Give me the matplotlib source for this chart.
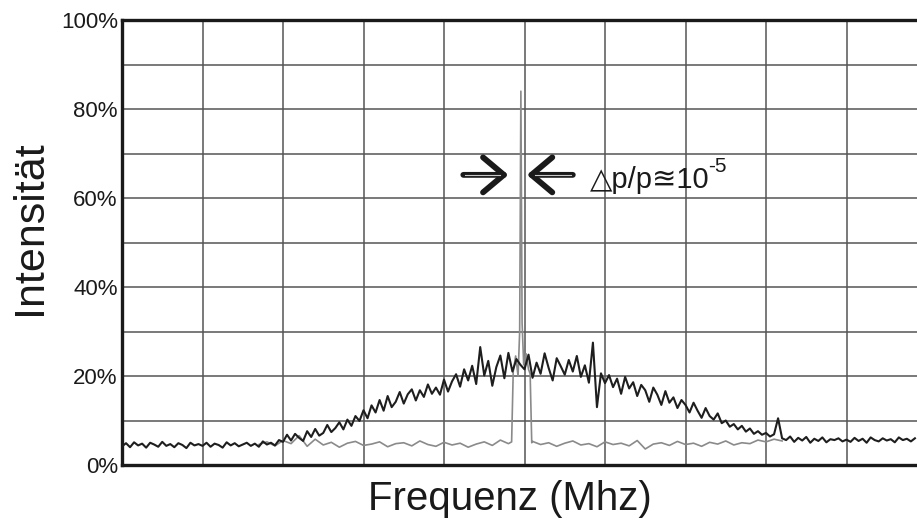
import numpy as np
import matplotlib.pyplot as plt

# broad spectrum (dark trace), one value per 0.05 grid division
broad_vals = [
    4.2, 4.9, 4.0, 5.1, 4.4, 4.8, 3.9, 5.0, 4.6, 4.1, 5.2, 4.3, 4.7, 4.0, 4.9, 4.5, 3.8, 5.0, 4.4, 4.7,
    4.3, 5.0, 4.1, 4.8, 4.5, 3.9, 5.1, 4.4, 4.9, 4.2, 4.6, 5.0, 4.3, 4.8, 4.1, 5.3, 4.6, 5.0, 4.4, 5.6,
    5.2, 6.8, 5.5, 7.0, 6.1, 5.4, 7.6, 6.3, 8.1, 6.6, 7.2, 9.0, 7.4, 8.3, 9.6, 8.0, 10.2, 8.8, 11.0, 9.9,
    12.3, 10.5, 13.4, 11.8, 14.6, 12.2, 15.5, 13.0, 14.2, 16.4, 13.8, 15.9, 17.0, 14.5, 16.8, 15.3, 18.1, 16.0, 17.4, 15.8,
    19.2, 16.5, 18.8, 20.4, 17.6, 21.5, 19.0, 22.3, 18.2, 26.5, 20.1, 23.4, 17.8, 22.0, 24.6, 19.5, 25.2, 21.0, 23.8, 22.5,
    21.5, 24.8, 19.6, 23.0, 20.5, 25.1, 21.8, 19.0, 24.0, 22.2, 20.3, 23.6, 21.0, 24.5, 19.8, 22.4, 18.5, 27.5, 13.0, 20.6,
    18.4, 20.2, 17.5, 19.4, 16.0, 19.8, 17.2, 18.6, 15.5, 18.0, 16.8, 14.2, 17.4, 15.8, 13.5, 16.6, 14.0, 15.2, 12.8, 14.6,
    13.5, 11.8, 14.0, 12.2, 10.6, 12.8, 11.0, 10.2, 11.6, 9.4, 10.0, 8.6, 9.2, 8.0, 8.8, 7.5, 8.2, 7.0, 7.6, 6.8,
    7.2, 6.4, 6.9, 10.5, 6.0, 5.6, 6.4, 5.2, 6.1, 5.5, 6.3, 5.0, 5.9, 5.4, 6.2, 5.1, 5.8, 5.6, 6.0, 5.3,
    5.7, 5.2, 6.1, 5.4, 5.9, 5.0, 6.2, 5.6, 5.3, 6.0, 5.5, 5.8, 5.1, 6.2, 5.6, 5.9, 5.3, 6.0,
]
broad_x = np.arange(len(broad_vals)) * 0.05

# cooled beam (gray trace)
narrow_left = [4.6, 5.2, 4.3, 5.5, 4.8, 6.6, 4.2, 5.8, 4.5, 5.1, 4.0, 4.9, 5.3, 4.4, 4.7, 5.2,
               4.1, 4.8, 5.0, 4.3, 5.4, 4.6, 4.2, 5.1, 4.5, 4.9, 4.0, 4.7, 5.2, 4.4, 5.6, 4.8]
peak_x = [4.84, 4.86, 4.89, 4.92, 4.94, 4.955, 4.97, 4.99, 5.02, 5.05, 5.07, 5.09]
peak_y = [5.2, 21.0, 24.5, 20.0, 30.0, 84.0, 32.0, 22.5, 25.0, 21.5, 20.5, 5.0]
narrow_right = [5.3, 4.6, 5.0, 4.2, 4.9, 5.4, 4.5, 4.8, 4.1, 5.2, 4.6, 4.9, 4.3, 5.5, 3.6, 4.7,
                5.0, 4.4, 5.3, 4.6, 4.9, 4.2, 5.1, 4.7, 5.4, 4.5, 5.0, 4.8, 5.6, 5.2, 5.8, 5.4]
narrow_x = np.concatenate([1.7 + np.arange(len(narrow_left)) * 0.1, peak_x,
                           5.1 + np.arange(len(narrow_right)) * 0.1])
narrow_y = np.concatenate([narrow_left, peak_y, narrow_right])

yticks = [0, 20, 40, 60, 80, 100]

plt.rcParams['font.family'] = ['Liberation Sans', 'DejaVu Sans']

fig = plt.figure(figsize=(9.17, 5.24), dpi=100)
ax = fig.add_axes([122 / 917, 59 / 524, 805 / 917, 445 / 524])

ax.plot(narrow_x, narrow_y, color='#8a8a8a', lw=1.2, zorder=3)
ax.plot(broad_x, broad_vals, color='#1e1e1e', lw=1.5, zorder=4)

ax.set_xlim(0, 10)
ax.set_ylim(0, 100)
ax.set_xticks(np.arange(1, 10))
ax.set_xticklabels([])
ax.set_yticks(yticks)
ax.set_yticklabels(['%d%%' % v for v in yticks], fontsize=16, color='#1a1a1a')
ax.set_yticks(np.arange(10, 100, 20), minor=True)
ax.tick_params(which='both', length=0, pad=3)
ax.grid(which='both', color='#555555', lw=1.1)
ax.set_axisbelow(True)
for s in ['left', 'top', 'bottom']:
    ax.spines[s].set_linewidth(2.4)
    ax.spines[s].set_color('#1a1a1a')
ax.spines['right'].set_visible(False)

# arrows pointing at the peak
for x0, x1 in [(4.24, 4.80), (5.60, 5.03)]:
    ax.annotate('', xy=(x1, 65.2), xytext=(x0, 65.2),
                arrowprops=dict(arrowstyle='->,head_length=0.5,head_width=0.42', lw=4.2,
                                color='#1a1a1a', mutation_scale=30, shrinkA=0, shrinkB=0),
                zorder=6)
    ax.plot([x0 + 0.02 * np.sign(x1 - x0), x1 - 0.1 * np.sign(x1 - x0)], [65.2, 65.2],
            color='#c8c8c8', lw=0.8, zorder=7)

t = ax.text(5.81, 62.3, '△p/p≊10', fontsize=21, color='#1a1a1a', va='baseline', ha='left',
            family=['Liberation Sans', 'DejaVu Sans'], zorder=6)
ax.annotate('-5', xy=(1, 1), xycoords=t, xytext=(-1, 6), textcoords='offset points',
            fontsize=15, color='#1a1a1a', va='top', ha='left')

fig.text(30 / 917, 1 - 228 / 524, 'Intensität', rotation=90, fontsize=31, color='#1a1a1a',
         ha='center', va='center')
fig.text(510 / 917, 1 - 510 / 524, 'Frequenz (Mhz)', fontsize=29, color='#1a1a1a',
         ha='center', va='baseline')

fig.savefig('out.png', dpi=100)
